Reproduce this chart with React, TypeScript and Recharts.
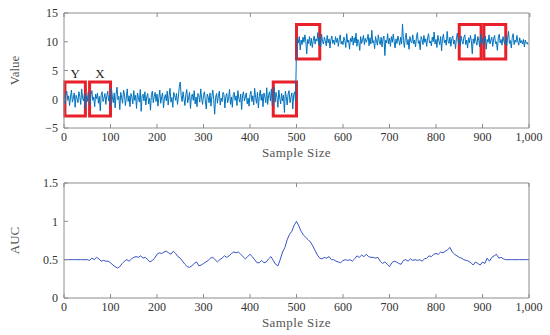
import {
  Line,
  LineChart,
  ReferenceArea,
  XAxis,
  YAxis,
} from "recharts";

// sample index ticks shared by both panels
const sampleTicks = [0, 100, 200, 300, 400, 500, 600, 700, 800, 900, 1000];
const valueTicks = [-5, 0, 5, 10, 15];
const aucTicks = [0, 0.5, 1, 1.5];

// top panel: signal, one value every 2 samples
const SIGNAL_STEP = 2;
const signalLow = [
  0.3, -0.8, 0.9, 1.4, -0.2, 0.6, -1.1, 0.4, 1.6, -0.5, 0.2, 1.1, -1.4, 0.7, 0.1, -0.6, 1.3, 0.5, -0.9, 1.8, 0.2, -0.3, 1.0, -1.7, 0.6,
  -0.4, 1.2, 0.3, -1.0, 0.8, 1.5, -0.2, 0.4, -1.3, 0.9, 0.1, 1.1, -0.7, 0.5, -2.0, 0.8, 1.3, -0.4, 0.2, 1.0, -0.9, 0.6, 1.4, -0.3, 0.7,
  -1.2, 1.9, 0.4, -0.6, 1.1, -1.5, 0.8, 2.1, -0.1, 0.5, -1.8, 1.2, 0.3, -0.7, 1.6, 0.9, -1.1, 0.2, 1.8, -0.4, 0.6, -1.3, 1.0, 0.4, -0.8,
  1.5, -0.2, 0.7, -1.6, 1.1, 0.3, -0.5, 1.7, -2.1, 0.6, 0.9, -0.3, 1.3, -1.0, 0.4, 1.0, -0.8, 0.2, -1.9, 0.8, 1.4, -0.6, 0.5, 1.2, -0.4,
  0.9, -1.2, 0.3, 1.6, -0.7, 0.5, 1.1, -1.5, 0.2, 0.8, -0.3, 1.4, -1.0, 0.6, 1.9, -0.5, 0.3, -1.4, 1.2, 0.7, -0.2, 1.0, -0.9, 0.4, 2.2,
  3.0, 0.6, -0.4, 1.3, 0.1, -1.1, 0.8, 1.7, -0.6, 0.3, 1.2, -1.6, 0.5, 0.9, -0.2, 1.5, -0.8, 0.4, -1.3, 1.0, 0.6, -0.5, 1.8, 0.2, -0.9,
  0.7, 1.3, -0.3, -1.7, 0.9, 0.4, -0.6, 1.1, -1.2, 0.5, 1.6, -0.1, -2.6, 0.3, 1.0, -0.7, 0.6, 1.4, -1.0, 0.2, -0.4, 1.2, 0.8, -1.5, 0.5,
  1.0, -0.6, 0.3, 1.7, -0.9, 0.4, -1.4, 0.8, 1.2, -0.2, 0.6, -1.1, 1.5, 0.1, -0.5, 0.9, -1.8, 0.7, 1.3, -0.3, 0.4, 1.1, -0.8, 0.2, -1.2,
  0.8, 1.4, -0.4, 0.6, -1.0, 1.9, 0.3, -0.7, 1.2, -1.5, 0.5, 1.6, -0.2, 0.9, -1.3, 1.1, 0.4, -0.6, 2.0, -0.9, 0.7, 1.3, -0.3, 1.8, -1.1,
  0.6, 2.1, -0.5, 1.2, 0.3, -1.4, 1.6, 0.2, -0.8, 1.0, -0.3, 0.7, -2.3, 1.4, 0.5, -1.0, 0.9, 1.5, -0.6, 0.3, 1.1, -1.7, 0.8, 1.3, -0.4,
];
const signalHigh = [
  9.2, 10.6, 9.8, 10.9, 8.6, 10.3, 9.5, 10.8, 9.9, 11.2, 10.1, 7.9, 10.4, 9.7, 10.9, 9.3, 10.6, 9.0, 10.2, 11.0, 9.6, 10.5, 10.1, 11.6, 9.4,
  10.7, 9.1, 11.3, 10.0, 9.6, 10.8, 10.2, 9.3, 11.1, 9.8, 10.5, 8.9, 10.4, 11.0, 9.7, 10.3, 9.5, 10.9, 9.9, 10.6, 9.2, 10.4, 11.2, 9.6, 10.1,
  9.5, 10.8, 10.2, 9.0, 11.4, 9.9, 10.3, 8.7, 10.6, 10.0, 11.0, 9.4, 10.7, 9.8, 11.5, 9.2, 10.4, 10.0, 8.5, 10.9, 9.7, 10.3, 11.1, 9.5, 10.6,
  9.9, 10.4, 11.3, 9.3, 10.7, 9.6, 12.0, 9.8, 10.2, 8.8, 10.9, 10.1, 9.4, 11.2, 10.0, 9.5, 10.8, 9.1, 10.5, 11.0, 7.6, 10.3, 9.8, 11.4, 9.6,
  10.6, 9.2, 10.9, 9.9, 11.3, 10.1, 8.9, 10.5, 9.7, 11.0, 10.3, 9.4, 10.8, 9.6, 13.1, 10.2, 9.0, 10.7, 11.5, 9.5, 10.4, 8.7, 10.9, 10.0, 9.8,
  11.2, 9.6, 10.3, 9.1, 10.8, 11.6, 9.7, 10.2, 8.6, 10.9, 10.4, 9.5, 11.1, 9.9, 10.5, 9.2, 10.7, 11.4, 9.8, 10.1, 9.3, 10.8, 10.0, 11.7, 9.6,
  10.4, 9.0, 11.1, 10.2, 9.5, 10.9, 8.4, 10.6, 11.3, 9.8, 10.3, 9.4, 11.8, 10.1, 9.7, 10.8, 9.2, 10.5, 11.0, 9.6, 10.3, 8.8, 10.7, 11.5, 9.9,
  10.4, 9.3, 11.0, 10.1, 9.6, 10.8, 11.2, 9.5, 10.3, 8.9, 10.7, 9.8, 11.1, 10.2, 7.9, 10.5, 9.7, 11.3, 10.0, 9.4, 10.9, 10.2, 9.1, 11.4, 9.8,
  10.6, 9.5, 10.2, 11.0, 8.7, 10.4, 9.9, 11.2, 9.6, 10.3, 10.8, 9.2, 10.5, 11.1, 9.7, 10.0, 8.5, 10.7, 11.3, 9.8, 10.4, 9.4, 10.9, 10.1, 9.6,
  11.0, 9.3, 10.6, 11.8, 9.7, 10.2, 8.9, 10.8, 11.4, 9.5, 10.3, 9.9, 11.1, 10.0, 9.4, 10.7, 9.8, 10.2, 9.6, 10.4, 9.1, 10.3, 9.7, 9.9, 9.5,
];

// highlighted windows
const windows = [
  { key: "Y", x1: 2, x2: 46, y1: -2.9, y2: 3 },
  { key: "X", x1: 55, x2: 100, y1: -2.9, y2: 3 },
  { key: "", x1: 450, x2: 500, y1: -2.9, y2: 3 },
  { key: "", x1: 500, x2: 550, y1: 7, y2: 13 },
  { key: "", x1: 850, x2: 897, y1: 7, y2: 13 },
  { key: "", x1: 903, x2: 950, y1: 7, y2: 13 },
];

// bottom panel: AUC, one value every 5 samples
const AUC_STEP = 5;
const aucValues = [
  0.5, 0.5, 0.5, 0.5, 0.5, 0.5, 0.5, 0.5, 0.5, 0.5, 0.5,
  0.49, 0.52, 0.5, 0.53, 0.51, 0.48, 0.49, 0.48, 0.48, 0.46,
  0.43, 0.41, 0.39, 0.41, 0.45, 0.48, 0.5, 0.48, 0.51, 0.53,
  0.54, 0.53, 0.55, 0.52, 0.53, 0.5, 0.47, 0.49, 0.52, 0.57,
  0.59, 0.58, 0.6, 0.61, 0.59, 0.57, 0.61, 0.58, 0.54, 0.52,
  0.48, 0.44, 0.41, 0.4, 0.42, 0.45, 0.47, 0.42, 0.43, 0.45,
  0.47, 0.49, 0.52, 0.53, 0.5, 0.47, 0.5, 0.52, 0.55, 0.53,
  0.55, 0.58, 0.6, 0.59, 0.6, 0.57, 0.54, 0.51, 0.54, 0.57,
  0.54, 0.5, 0.46, 0.46, 0.49, 0.46, 0.47, 0.51, 0.54, 0.49,
  0.44, 0.42, 0.5, 0.6, 0.66, 0.76, 0.83, 0.87, 0.95, 1.0,
  0.94, 0.87, 0.82, 0.79, 0.76, 0.73, 0.68, 0.62, 0.56, 0.52,
  0.51, 0.53, 0.52, 0.54, 0.5, 0.5, 0.48, 0.47, 0.46, 0.49,
  0.5, 0.49, 0.5, 0.48, 0.51, 0.55, 0.53, 0.56, 0.54, 0.57,
  0.54, 0.53, 0.53, 0.52, 0.53, 0.48, 0.45, 0.47, 0.44, 0.41,
  0.46, 0.48, 0.47, 0.45, 0.44, 0.49, 0.5, 0.48, 0.51, 0.49,
  0.5, 0.49, 0.5, 0.48, 0.51, 0.52, 0.55, 0.54, 0.57, 0.58,
  0.57, 0.6, 0.59, 0.61, 0.63, 0.66, 0.6, 0.57, 0.55, 0.53,
  0.52, 0.5, 0.49, 0.48, 0.46, 0.43, 0.47, 0.45, 0.43, 0.47,
  0.45, 0.52, 0.48, 0.53, 0.55, 0.57, 0.52, 0.53, 0.51, 0.5,
  0.5, 0.5, 0.5, 0.5, 0.5, 0.5, 0.5, 0.5, 0.5, 0.5,
];

const signalData = signalLow
  .concat(signalHigh)
  .map((v, i) => ({ sample: i * SIGNAL_STEP, value: v }));
const aucData = aucValues.map((v, i) => ({ sample: i * AUC_STEP, auc: v }));

const FONT = "Liberation Serif";
const FRAME = "#8c8c8c";
const tickStyle = { fontSize: 12, fill: "#333", style: { fontFamily: FONT } };

const fmtSample = (v: number) => v.toLocaleString("en-US");
const fmtSigned = (v: number) => (v < 0 ? `\u2212${-v}` : `${v}`);
const blank = () => "";

const yTitle = (text: string) => (props: any) => {
  const vb = props.viewBox;
  const cx = vb.x + 14;
  const cy = vb.y + vb.height / 2;
  return (
    <text
      x={cx}
      y={cy}
      transform={`rotate(-90, ${cx}, ${cy})`}
      textAnchor="middle"
      dominantBaseline="central"
      fontSize={13}
      style={{ fontFamily: FONT }}
      fill="#555"
    >
      {text}
    </text>
  );
};

const xTitle = (props: any) => {
  const vb = props.viewBox;
  return (
    <text
      x={vb.x + vb.width / 2}
      y={vb.y + 29}
      textAnchor="middle"
      fontSize={13}
      letterSpacing={0.4}
      style={{ fontFamily: FONT }}
      fill="#555"
    >
      Sample Size
    </text>
  );
};

export default function App() {
  const margin = { top: 12, right: 20, left: 0, bottom: 0 };
  return (
    <div style={{ position: "absolute", left: 0, top: 0, width: 550, height: 335, background: "#fff" }}>
      <LineChart width={550} height={170} data={signalData} margin={margin}>
        <XAxis
          xAxisId="b"
          dataKey="sample"
          type="number"
          domain={[0, 1000]}
          ticks={sampleTicks}
          interval={0}
          tickFormatter={fmtSample}
          height={42}
          tickSize={-4}
          tickMargin={8}
          stroke={FRAME}
          tick={tickStyle}
          label={xTitle}
        />
        <XAxis
          xAxisId="t"
          orientation="top"
          type="number"
          domain={[0, 1000]}
          ticks={sampleTicks}
          interval={0}
          tickFormatter={blank}
          height={1}
          tickSize={-4}
          stroke={FRAME}
        />
        <YAxis
          yAxisId="l"
          type="number"
          domain={[-5, 15]}
          ticks={valueTicks}
          interval={0}
          tickFormatter={fmtSigned}
          width={64}
          tickSize={-4}
          tickMargin={10}
          stroke={FRAME}
          tick={tickStyle}
          label={yTitle("Value")}
        />
        <YAxis
          yAxisId="r"
          orientation="right"
          type="number"
          domain={[-5, 15]}
          ticks={valueTicks}
          interval={0}
          tickFormatter={blank}
          width={1}
          tickSize={-4}
          stroke={FRAME}
        />
        <Line
          xAxisId="b"
          yAxisId="l"
          type="linear"
          dataKey="value"
          stroke="#0072bd"
          strokeWidth={1}
          dot={false}
          isAnimationActive={false}
        />
        {windows.map((w, i) => (
          <ReferenceArea
            key={i}
            xAxisId="b"
            yAxisId="l"
            x1={w.x1}
            x2={w.x2}
            y1={w.y1}
            y2={w.y2}
            fill="none"
            fillOpacity={0}
            stroke="#e8202a"
            strokeWidth={3}
            strokeOpacity={1}
            label={
              w.key
                ? {
                    value: w.key,
                    position: "top",
                    offset: 4,
                    fontSize: 13,
                    style: { fontFamily: FONT },
                    fill: "#222",
                  }
                : undefined
            }
          />
        ))}
      </LineChart>
      <LineChart width={550} height={165} data={aucData} margin={margin}>
        <XAxis
          xAxisId="b"
          dataKey="sample"
          type="number"
          domain={[0, 1000]}
          ticks={sampleTicks}
          interval={0}
          tickFormatter={fmtSample}
          height={37}
          tickSize={-4}
          tickMargin={8}
          stroke={FRAME}
          tick={tickStyle}
          label={xTitle}
        />
        <XAxis
          xAxisId="t"
          orientation="top"
          type="number"
          domain={[0, 1000]}
          ticks={sampleTicks}
          interval={0}
          tickFormatter={blank}
          height={1}
          tickSize={-4}
          stroke={FRAME}
        />
        <YAxis
          yAxisId="l"
          type="number"
          domain={[0, 1.5]}
          ticks={aucTicks}
          interval={0}
          width={64}
          tickSize={-4}
          tickMargin={10}
          stroke={FRAME}
          tick={tickStyle}
          label={yTitle("AUC")}
        />
        <YAxis
          yAxisId="r"
          orientation="right"
          type="number"
          domain={[0, 1.5]}
          ticks={aucTicks}
          interval={0}
          tickFormatter={blank}
          width={1}
          tickSize={-4}
          stroke={FRAME}
        />
        <Line
          xAxisId="b"
          yAxisId="l"
          type="linear"
          dataKey="auc"
          stroke="#3553c4"
          strokeWidth={1}
          dot={false}
          isAnimationActive={false}
        />
      </LineChart>
    </div>
  );
}
